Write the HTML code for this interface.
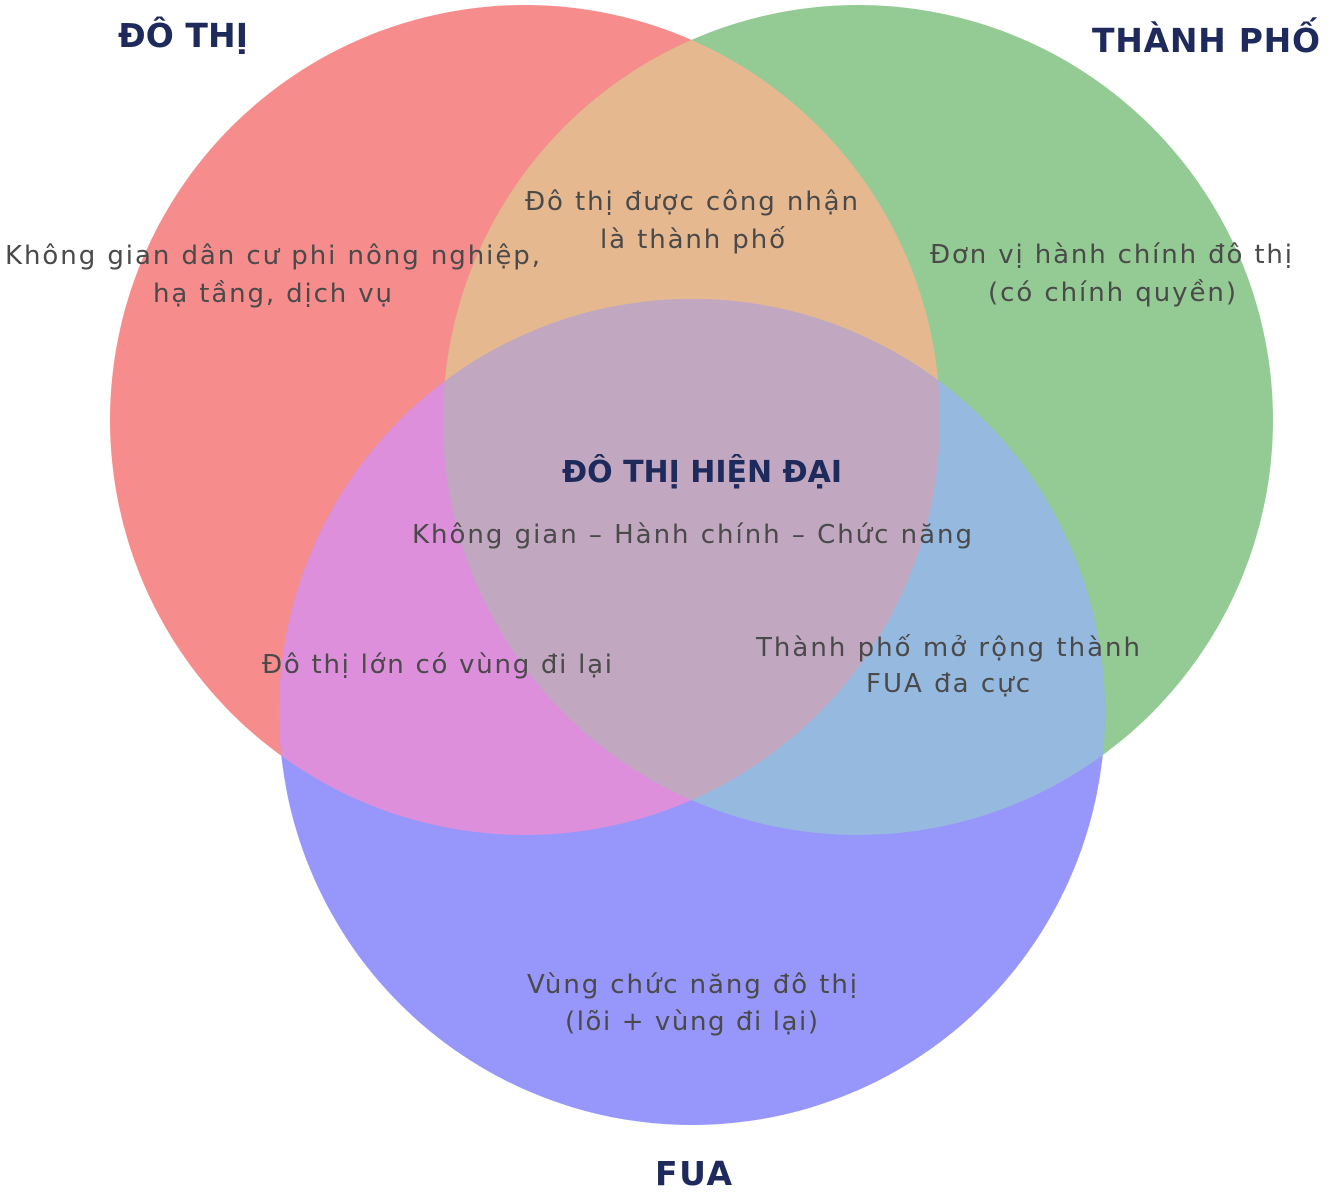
<!DOCTYPE html>
<html><head><meta charset="utf-8"><style>
html,body{margin:0;padding:0;background:#fff;}
svg{display:block;}
text{font-family:"DejaVu Sans","Liberation Sans",sans-serif;}
.t{font-size:26px;fill:#4a4a4a;}
.h{font-size:33px;font-weight:bold;fill:#1f2a5c;}
</style></head><body>
<svg width="1334" height="1200" viewBox="0 0 1334 1200" xmlns="http://www.w3.org/2000/svg">
<defs>
<clipPath id="cr"><circle cx="525" cy="420" r="415"/></clipPath>
<clipPath id="cg"><circle cx="858" cy="420" r="415"/></clipPath>
<clipPath id="cb"><circle cx="692" cy="712" r="413"/></clipPath>
</defs>
<circle cx="525" cy="420" r="415" fill="#f78c8c"/>
<circle cx="858" cy="420" r="415" fill="#94cb94"/>
<circle cx="692" cy="712" r="413" fill="#9696fb"/>
<g clip-path="url(#cr)"><circle cx="858" cy="420" r="415" fill="#e5b88f"/><circle cx="692" cy="712" r="413" fill="#dd8fdc"/></g>
<g clip-path="url(#cg)"><circle cx="692" cy="712" r="413" fill="#96b9e0"/></g>
<g clip-path="url(#cr)"><g clip-path="url(#cg)"><circle cx="692" cy="712" r="413" fill="#c1a8c0"/></g></g>
<text class="h" x="118" y="47" textLength="130" lengthAdjust="spacing">ĐÔ THỊ</text>
<text class="h" x="1092" y="52" textLength="228" lengthAdjust="spacing">THÀNH PHỐ</text>
<text class="h" x="655" y="1185" textLength="77" lengthAdjust="spacing">FUA</text>
<text class="t" x="5" y="264" textLength="535" lengthAdjust="spacing">Không gian dân cư phi nông nghiệp,</text>
<text class="t" x="153" y="302" textLength="239" lengthAdjust="spacing">hạ tầng, dịch vụ</text>
<text class="t" x="525" y="210" textLength="333" lengthAdjust="spacing">Đô thị được công nhận</text>
<text class="t" x="600" y="248" textLength="185" lengthAdjust="spacing">là thành phố</text>
<text class="t" x="930" y="263" textLength="362" lengthAdjust="spacing">Đơn vị hành chính đô thị</text>
<text class="t" x="988" y="301" textLength="248" lengthAdjust="spacing">(có chính quyền)</text>
<text class="h" x="562" y="482" style="font-size:30px" textLength="280" lengthAdjust="spacing">ĐÔ THỊ HIỆN ĐẠI</text>
<text class="t" x="412" y="543" textLength="560" lengthAdjust="spacing">Không gian – Hành chính – Chức năng</text>
<text class="t" x="262" y="673" textLength="350" lengthAdjust="spacing">Đô thị lớn có vùng đi lại</text>
<text class="t" x="756" y="656" textLength="384" lengthAdjust="spacing">Thành phố mở rộng thành</text>
<text class="t" x="866" y="692" textLength="164" lengthAdjust="spacing">FUA đa cực</text>
<text class="t" x="527" y="993" textLength="330" lengthAdjust="spacing">Vùng chức năng đô thị</text>
<text class="t" x="565" y="1030" textLength="253" lengthAdjust="spacing">(lõi + vùng đi lại)</text>
</svg>
</body></html>
